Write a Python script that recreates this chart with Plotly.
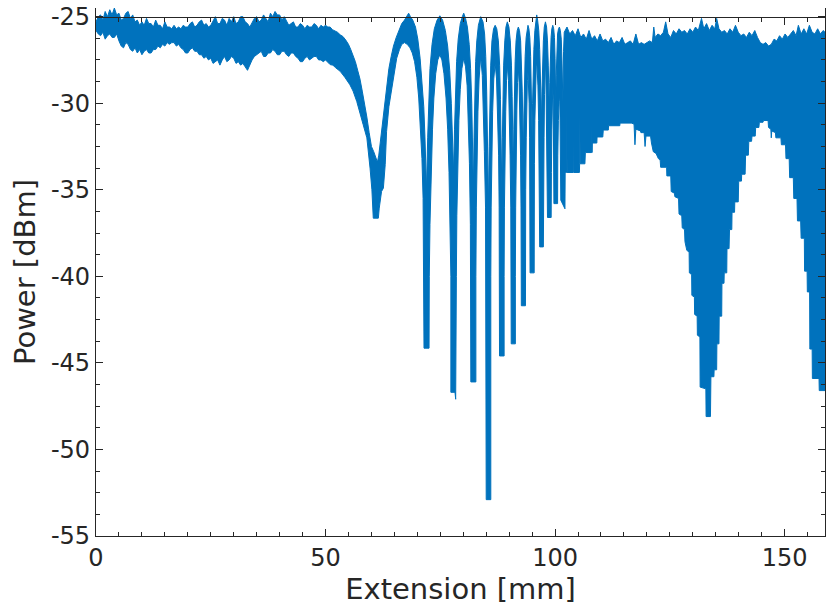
import plotly.graph_objects as go

# ---------------- data ----------------
# noisy flat band, 0-50 mm: envelope of the trace (dBm)
band_mm = [0.0, 0.5, 1.0, 1.5, 2.0, 2.5, 3.0, 3.5, 4.0, 4.5, 5.0, 5.5, 6.0, 6.5, 7.0, 7.5, 8.0, 8.5, 9.0, 9.5,
           10.0, 10.5, 11.0, 11.5, 12.0, 12.5, 13.0, 13.5, 14.0, 14.5, 15.0, 15.5, 16.0, 16.5, 17.0, 17.5, 18.0, 18.5, 19.0, 19.5,
           20.0, 20.5, 21.0, 21.5, 22.0, 22.5, 23.0, 23.5, 24.0, 24.5, 25.0, 25.5, 26.0, 26.5, 27.0, 27.5, 28.0, 28.5, 29.0, 29.5,
           30.0, 30.5, 31.0, 31.5, 32.0, 32.5, 33.0, 33.5, 34.0, 34.5, 35.0, 35.5, 36.0, 36.5, 37.0, 37.5, 38.0, 38.5, 39.0, 39.5,
           40.0, 40.5, 41.0, 41.5, 42.0, 42.5, 43.0, 43.5, 44.0, 44.5, 45.0, 45.5, 46.0, 46.5, 47.0, 47.5, 48.0, 48.5, 49.0, 49.5, 50.0]
band_top = [-25.3, -25.0, -24.9, -25.2, -24.7, -25.0, -24.6, -24.9, -24.5, -24.9, -24.8, -25.2, -25.1, -24.8, -24.7, -25.1, -24.9, -25.3, -25.2, -25.5,
            -25.3, -25.5, -25.1, -25.4, -25.4, -25.6, -25.2, -25.5, -25.5, -25.7, -25.3, -25.6, -25.6, -25.7, -25.5, -25.7, -25.6, -25.7, -25.5, -25.6,
            -25.6, -25.4, -25.3, -25.6, -25.5, -25.3, -25.2, -25.5, -25.4, -25.6, -25.5, -25.2, -25.0, -25.4, -25.4, -25.1, -25.2, -25.5, -25.1, -25.3,
            -25.0, -25.4, -25.3, -25.0, -25.0, -25.3, -25.4, -25.6, -25.3, -25.1, -25.0, -25.3, -25.2, -24.9, -25.1, -25.3, -24.8, -25.0, -24.7, -24.9,
            -24.9, -25.2, -25.0, -25.3, -25.5, -25.4, -25.3, -25.6, -25.6, -25.4, -25.5, -25.7, -25.5, -25.6, -25.6, -25.4, -25.5, -25.7, -25.5, -25.6, -25.5]
band_bottom = [-25.8, -26.0, -26.1, -25.9, -26.3, -26.1, -26.0, -26.2, -26.2, -26.0, -26.4, -26.7, -26.8, -26.5, -26.6, -26.9, -27.0, -26.8, -27.1, -26.9,
               -27.2, -27.0, -26.9, -27.1, -27.1, -26.9, -26.9, -26.7, -26.8, -26.6, -26.7, -26.5, -26.6, -26.5, -26.5, -26.7, -26.6, -26.8, -26.9, -27.1,
               -27.1, -26.9, -26.8, -27.0, -27.0, -27.2, -27.2, -27.4, -27.3, -27.5, -27.4, -27.7, -27.6, -27.5, -27.8, -27.5, -27.3, -27.6, -27.5, -27.3,
               -27.4, -27.7, -27.6, -27.8, -27.7, -27.9, -28.1, -27.8, -27.5, -27.3, -27.2, -27.1, -27.0, -27.3, -27.3, -27.1, -27.1, -26.9, -27.0, -27.2,
               -27.2, -27.0, -27.0, -27.2, -27.3, -27.1, -27.1, -27.3, -27.4, -27.6, -27.6, -27.4, -27.3, -27.5, -27.4, -27.3, -27.3, -27.5, -27.5, -27.6, -27.5]

# interference fringes, 50-102 mm: upper edge of the trace (mm, dBm)
fringe_top = [
    (50.5, -25.6), (51.0, -25.6), (51.5, -25.75), (52.0, -25.8), (52.6, -25.9), (53.2, -26.05), (53.8, -26.15), (54.4, -26.35),
    (55.0, -26.6), (55.5, -26.9), (56.0, -27.2), (56.5, -27.6), (57.0, -28.1), (57.5, -28.6), (58.0, -29.3), (58.5, -30.0),
    (59.0, -30.8), (59.5, -31.7), (60.0, -32.5), (60.5, -32.8), (61.0, -33.2), (61.3, -33.4),
    (61.6, -33.0), (61.9, -32.3), (62.2, -31.4), (62.6, -30.5), (63.0, -29.6), (63.4, -28.8), (63.8, -28.0), (64.3, -27.3),
    (64.8, -26.7), (65.4, -26.2), (66.0, -25.8), (66.6, -25.4), (67.2, -25.2), (67.7, -24.95), (68.1, -24.8), (68.5, -25.0),
    (69.0, -25.2), (69.6, -25.6), (70.1, -26.3), (70.6, -27.4), (71.0, -28.7), (71.4, -30.2), (71.65, -31.9), (71.85, -33.6), (72.0, -35.0),
    (72.25, -32.0), (72.45, -29.8), (72.75, -28.0), (73.2, -26.6), (73.7, -25.7), (74.3, -25.2), (74.9, -24.95), (75.5, -25.2),
    (76.1, -25.8), (76.6, -26.7), (77.05, -28.1), (77.4, -30.0), (77.65, -32.2), (77.9, -34.0),
    (78.1, -31.5), (78.3, -29.3), (78.55, -27.6), (78.9, -26.3), (79.35, -25.4), (79.8, -25.0), (80.1, -24.8), (80.5, -25.1),
    (80.9, -25.6), (81.3, -26.6), (81.6, -28.0), (81.85, -30.0), (82.05, -32.5), (82.2, -35.0),
    (82.35, -32.0), (82.5, -29.5), (82.7, -27.6), (82.95, -26.4), (83.3, -25.5), (83.8, -25.0), (84.3, -25.3), (84.65, -26.0),
    (84.9, -27.3), (85.1, -29.3), (85.3, -32.0), (85.5, -36.0),
    (85.65, -32.5), (85.8, -29.8), (85.98, -27.8), (86.25, -26.4), (86.6, -25.7), (86.95, -25.5), (87.3, -25.7), (87.65, -26.4),
    (87.92, -27.8), (88.1, -29.8), (88.25, -32.5), (88.4, -35.0),
    (88.52, -32.0), (88.65, -29.6), (88.8, -27.8), (89.05, -26.4), (89.3, -25.6), (89.6, -25.3), (89.95, -25.6), (90.25, -26.4),
    (90.5, -27.8), (90.65, -29.6), (90.78, -32.0), (90.9, -34.0),
    (91.02, -31.5), (91.15, -29.3), (91.3, -27.6), (91.5, -26.4), (91.75, -25.8), (92.0, -25.6), (92.25, -25.8), (92.5, -26.4),
    (92.7, -27.6), (92.85, -29.3), (92.98, -31.2), (93.1, -33.0),
    (93.2, -30.8), (93.32, -28.8), (93.48, -27.3), (93.7, -26.2), (93.9, -25.7), (94.1, -25.5), (94.3, -25.7), (94.5, -26.2),
    (94.68, -27.3), (94.8, -28.8), (94.9, -30.5), (95.0, -32.0),
    (95.1, -30.0), (95.22, -28.3), (95.38, -26.9), (95.6, -25.8), (95.8, -25.2), (96.0, -24.9), (96.2, -25.2), (96.45, -25.8),
    (96.65, -26.9), (96.8, -28.3), (96.93, -29.8), (97.05, -31.0),
    (97.15, -29.3), (97.27, -27.8), (97.45, -26.4), (97.65, -25.6), (97.9, -25.3), (98.15, -25.6), (98.35, -26.4), (98.52, -27.8),
    (98.64, -29.3), (98.75, -30.5),
    (98.85, -28.8), (98.97, -27.4), (99.13, -26.2), (99.3, -25.7), (99.5, -25.5), (99.7, -25.7), (99.87, -26.2), (100.0, -27.4),
    (100.08, -28.8), (100.15, -30.0),
    (100.25, -28.4), (100.38, -27.0), (100.55, -26.0), (100.75, -25.7), (100.95, -25.6), (101.15, -25.8), (101.35, -26.3),
    (101.5, -27.5), (101.6, -29.0), (101.7, -30.0), (101.85, -27.0),
]

# interference fringes, 50-102 mm: lower edge of the trace (mm, dBm)
fringe_bottom = [
    (50.5, -27.6), (51.0, -27.77), (51.6, -27.8), (52.2, -27.95), (53.2, -28.16), (54.2, -28.5), (55.3, -28.93), (56.0, -29.3),
    (56.8, -29.9), (57.5, -30.5), (58.2, -31.24), (59.0, -32.0), (59.4, -32.8), (59.7, -33.75), (60.1, -35.0), (60.3, -35.87),
    (60.4, -36.64), (61.5, -36.64),
    (61.7, -36.06), (62.2, -35.1), (62.6, -34.9), (63.0, -33.55), (63.3, -31.63), (63.8, -30.2), (64.4, -29.3), (65.0, -28.3),
    (65.5, -27.4), (66.1, -26.9), (66.6, -26.6), (67.2, -26.5), (67.8, -26.6), (68.4, -26.8), (68.9, -27.1), (69.4, -27.6),
    (69.9, -28.5), (70.3, -29.7), (70.7, -31.3), (71.0, -33.2), (71.25, -35.5), (71.4, -38.0), (71.45, -44.15),
    (72.55, -44.15), (72.6, -40.0), (72.75, -37.0), (73.0, -34.0), (73.3, -31.5), (73.6, -29.7), (74.0, -28.3), (74.45, -27.5),
    (74.9, -27.2), (75.35, -27.5), (75.8, -28.3), (76.25, -29.7), (76.6, -31.5), (76.9, -34.0), (77.15, -37.0), (77.3, -40.0), (77.3, -46.7),
    (78.2, -46.7), (78.35, -47.1), (78.5, -46.6), (78.5, -40.0), (78.6, -36.5), (78.8, -33.5), (79.05, -31.0), (79.35, -29.2),
    (79.7, -28.0), (80.1, -27.4), (80.5, -27.9), (80.85, -29.0), (81.1, -30.8), (81.35, -33.5), (81.55, -37.0), (81.65, -41.0), (81.65, -46.1),
    (82.75, -46.1), (82.75, -40.0), (82.85, -36.0), (83.0, -33.0), (83.2, -30.5), (83.45, -28.6), (83.8, -27.3), (84.15, -28.4),
    (84.4, -30.3), (84.6, -32.8), (84.85, -36.0), (84.98, -40.0), (85.0, -52.9),
    (86.0, -52.9), (86.0, -40.0), (86.08, -36.0), (86.2, -33.0), (86.4, -30.5), (86.65, -28.6), (86.95, -27.7), (87.25, -28.6),
    (87.5, -30.5), (87.7, -33.0), (87.82, -36.0), (87.9, -40.0), (87.9, -44.6),
    (88.9, -44.6), (88.9, -40.0), (88.97, -36.0), (89.08, -33.0), (89.25, -30.5), (89.42, -28.7), (89.62, -27.8), (89.85, -28.7),
    (90.05, -30.5), (90.2, -33.0), (90.35, -36.0), (90.45, -40.0), (90.45, -43.9),
    (91.35, -43.9), (91.35, -40.0), (91.42, -36.0), (91.52, -33.0), (91.68, -30.4), (91.83, -28.8), (92.0, -28.0), (92.17, -28.8),
    (92.32, -30.4), (92.48, -33.0), (92.58, -36.0), (92.65, -40.0), (92.65, -41.7),
    (93.55, -41.7), (93.55, -38.0), (93.6, -35.0), (93.72, -32.0), (93.85, -30.0), (93.97, -28.7), (94.1, -28.2), (94.22, -28.7),
    (94.35, -30.0), (94.45, -32.0), (94.52, -35.0), (94.55, -38.0), (94.55, -39.8),
    (95.45, -39.8), (95.45, -36.0), (95.5, -33.5), (95.6, -31.0), (95.75, -29.0), (95.9, -27.9), (96.0, -27.5), (96.12, -27.9),
    (96.27, -29.0), (96.42, -31.0), (96.55, -33.5), (96.62, -36.0), (96.65, -38.3),
    (97.45, -38.3), (97.5, -35.0), (97.6, -32.0), (97.7, -29.5), (97.8, -28.2), (97.9, -27.7), (98.0, -28.2), (98.1, -29.5),
    (98.2, -32.0), (98.3, -35.0), (98.35, -36.6),
    (99.15, -36.6), (99.2, -34.0), (99.3, -31.5), (99.4, -29.8), (99.5, -29.0), (99.6, -29.8), (99.68, -31.5), (99.73, -34.0), (99.75, -35.8),
    (100.55, -35.8), (100.6, -33.0), (100.72, -31.0), (100.85, -29.9), (100.95, -29.5), (101.05, -29.9), (101.15, -31.0),
    (101.22, -33.0), (101.25, -35.6), (102.15, -36.1),
]

# fast oscillation region, 102-158.8 mm: upper and lower envelope (mm, dBm)
dense_top = [
    (102.0, -25.9), (102.6, -25.6), (103.2, -26.0), (103.8, -25.8), (104.4, -26.1), (105.0, -25.7), (105.6, -26.2), (106.2, -26.0),
    (106.8, -26.3), (107.4, -25.8), (108.0, -26.3), (108.6, -26.1), (109.2, -26.4), (109.8, -26.0), (110.4, -26.4), (111.0, -26.3),
    (111.6, -26.5), (112.2, -26.2), (112.8, -26.6), (113.4, -26.4), (114.0, -26.5), (114.6, -26.2), (115.2, -26.6), (115.8, -26.5),
    (116.4, -26.4), (117.0, -26.6), (117.6, -26.0), (118.2, -26.6), (118.8, -26.5), (119.4, -26.6), (120.0, -26.5), (120.6, -26.4),
    (121.2, -26.5), (121.5, -25.6), (121.8, -26.2), (122.4, -26.0), (123.0, -26.1), (123.6, -25.9), (124.1, -25.3), (124.6, -26.0),
    (125.2, -26.2), (125.8, -25.8), (126.4, -26.0), (127.0, -25.7), (127.6, -25.9), (128.2, -25.8), (128.8, -26.0), (129.4, -25.7),
    (130.0, -25.9), (130.6, -25.6), (131.2, -25.8), (131.9, -25.1), (132.4, -25.7), (133.0, -25.4), (133.6, -25.8), (134.2, -25.5),
    (134.8, -25.7), (135.2, -25.1), (135.7, -25.7), (136.3, -25.9), (136.9, -25.8), (137.5, -26.0), (138.1, -25.7), (138.7, -25.9),
    (139.3, -25.5), (139.9, -25.9), (140.5, -26.1), (141.1, -26.0), (141.7, -26.2), (142.3, -25.9), (142.9, -26.1), (143.5, -25.8),
    (144.1, -26.2), (144.7, -26.5), (145.3, -26.6), (145.9, -26.5), (146.5, -26.7), (147.1, -26.6), (147.7, -26.3), (148.3, -26.4),
    (148.9, -26.1), (149.5, -26.3), (150.1, -26.0), (150.7, -26.2), (151.3, -26.0), (151.9, -25.8), (152.5, -26.1), (153.0, -25.5),
    (153.6, -26.0), (154.2, -25.7), (154.8, -26.0), (155.4, -25.5), (156.0, -25.9), (156.6, -26.0), (157.2, -25.7), (157.8, -26.0),
    (158.4, -25.8), (158.8, -25.9),
]
dense_bottom = [
    (102.2, -34.0), (102.5, -34.0), (102.55, -30.1), (102.62, -34.0), (103.95, -34.0), (104.0, -30.5), (104.07, -34.0),
    (105.3, -34.0), (105.35, -33.5), (105.4, -30.7), (105.47, -33.5), (106.5, -33.5), (106.6, -32.85), (107.95, -32.85),
    (108.0, -31.2), (108.05, -32.85), (108.1, -32.3), (109.1, -32.3), (109.15, -31.95), (110.4, -31.95), (110.5, -31.55),
    (111.6, -31.55), (111.65, -31.3), (114.1, -31.3), (114.15, -31.15), (116.6, -31.15), (117.2, -31.2), (117.4, -32.4),
    (117.6, -31.5), (118.6, -31.6), (118.7, -31.7), (119.4, -31.7), (119.6, -32.5), (119.8, -31.9), (120.8, -31.9), (121.0, -32.3),
    (121.4, -32.8), (122.0, -32.9), (122.5, -33.2), (122.9, -33.3), (123.0, -33.7), (124.3, -33.7), (124.35, -34.2), (125.2, -34.2),
    (125.3, -35.1), (126.0, -35.2), (126.1, -35.4), (126.9, -35.5), (127.0, -36.4), (127.6, -36.5), (127.7, -37.2), (128.2, -37.3),
    (128.3, -38.0), (128.7, -38.5), (129.2, -38.6), (129.25, -39.8), (129.75, -39.9), (129.8, -41.1), (130.35, -41.2), (130.4, -42.2),
    (130.95, -42.3), (131.0, -43.4), (131.55, -43.5), (131.6, -46.4), (132.85, -46.5), (132.9, -48.1), (133.85, -48.1),
    (133.95, -45.8), (134.6, -45.8), (134.65, -45.4), (135.2, -45.4), (135.25, -43.9), (135.7, -43.9), (135.75, -42.3),
    (136.3, -42.3), (136.35, -40.4), (136.8, -40.4), (136.85, -39.8), (137.4, -39.8), (137.45, -38.4), (137.9, -38.4),
    (138.0, -37.3), (138.5, -37.3), (138.55, -36.3), (139.1, -36.3), (139.15, -35.7), (139.9, -35.7), (140.0, -34.5),
    (140.6, -34.5), (140.65, -34.1), (141.4, -34.1), (141.5, -33.0), (142.1, -33.0), (142.2, -32.2), (142.8, -32.2),
    (142.9, -31.9), (143.6, -31.9), (143.7, -31.4), (144.4, -31.4), (144.5, -31.1), (145.3, -31.1), (145.4, -31.0),
    (146.4, -31.0), (146.5, -31.4), (147.0, -31.5), (147.1, -32.0), (147.2, -31.6), (148.0, -31.7), (148.1, -32.0),
    (149.2, -32.0), (149.3, -32.4), (150.2, -32.4), (150.3, -33.2), (151.0, -33.2), (151.1, -34.3), (151.9, -34.3),
    (152.0, -35.5), (152.7, -35.5), (152.8, -36.8), (153.5, -36.8), (153.6, -37.8), (154.3, -37.8), (154.35, -39.7),
    (154.9, -39.7), (154.95, -40.9), (155.45, -40.9), (155.5, -44.2), (156.0, -44.2), (156.05, -45.9), (157.5, -45.9),
    (157.55, -46.6), (158.8, -46.6),
]

x_ticks = [0, 50, 100, 150]
x_tick_labels = ["0", "50", "100", "150"]
y_ticks = [-55, -50, -45, -40, -35, -30, -25]
y_tick_labels = ["-55", "-50", "-45", "-40", "-35", "-30", "-25"]

# ---------------- figure ----------------
top_edge = list(zip(band_mm, band_top)) + fringe_top + dense_top
bottom_edge = list(zip(band_mm, band_bottom)) + fringe_bottom + dense_bottom
poly = top_edge + bottom_edge[::-1] + [top_edge[0]]

BLUE = "#0072BD"
AX = "#262626"
FONT = "DejaVu Sans"

fig = go.Figure()
fig.add_trace(go.Scatter(
    x=[p[0] for p in poly], y=[p[1] for p in poly],
    mode="lines", fill="toself", fillcolor=BLUE,
    line=dict(color=BLUE, width=1), hoverinfo="skip", showlegend=False))
# empty trace so the top (mirror) axis is drawn at y = -25
fig.add_trace(go.Scatter(x=[], y=[], xaxis="x2", yaxis="y", showlegend=False))

X_MAX = 158.8
Y_MIN, Y_MAX = -55, -24.5

fig.update_layout(
    width=826, height=606,
    margin=dict(l=96, r=1, t=8, b=70),
    paper_bgcolor="white", plot_bgcolor="white",
    showlegend=False,
    font=dict(family=FONT, color=AX),
    xaxis=dict(
        range=[0, X_MAX], tickvals=x_ticks, ticktext=x_tick_labels, ticks="inside", ticklen=7, tickwidth=1, tickcolor=AX,
        showline=True, linecolor=AX, linewidth=1.2, mirror=False, showgrid=False, zeroline=False,
        minor=dict(dtick=5, tick0=0, ticks="inside", ticklen=4, tickwidth=1, tickcolor=AX, showgrid=False),
        tickfont=dict(size=24, family=FONT, color=AX),
        title=dict(text="Extension [mm]", font=dict(size=29, family=FONT, color=AX), standoff=2),
        automargin=False,
    ),
    xaxis2=dict(
        overlaying="x", matches="x", range=[0, X_MAX], anchor="free",
        position=(-25 - Y_MIN) / (Y_MAX - Y_MIN), side="top",
        tickvals=x_ticks, ticks="inside", ticklen=7, tickwidth=1, tickcolor=AX,
        showline=True, linecolor=AX, linewidth=1.2, showticklabels=False, showgrid=False, zeroline=False,
        minor=dict(dtick=5, tick0=0, ticks="inside", ticklen=4, tickwidth=1, tickcolor=AX, showgrid=False),
    ),
    yaxis=dict(
        range=[Y_MIN, Y_MAX], tickvals=y_ticks, ticktext=y_tick_labels, ticks="inside", ticklen=7, tickwidth=1, tickcolor=AX,
        showline=True, linecolor=AX, linewidth=1.2, mirror="ticks", showgrid=False, zeroline=False,
        minor=dict(dtick=1.25, tick0=-55, ticks="inside", ticklen=4, tickwidth=1, tickcolor=AX, showgrid=False),
        tickfont=dict(size=24, family=FONT, color=AX),
        title=dict(text="Power [dBm]", font=dict(size=29, family=FONT, color=AX), standoff=6),
        automargin=False,
    ),
)

fig.write_html("out.html")
